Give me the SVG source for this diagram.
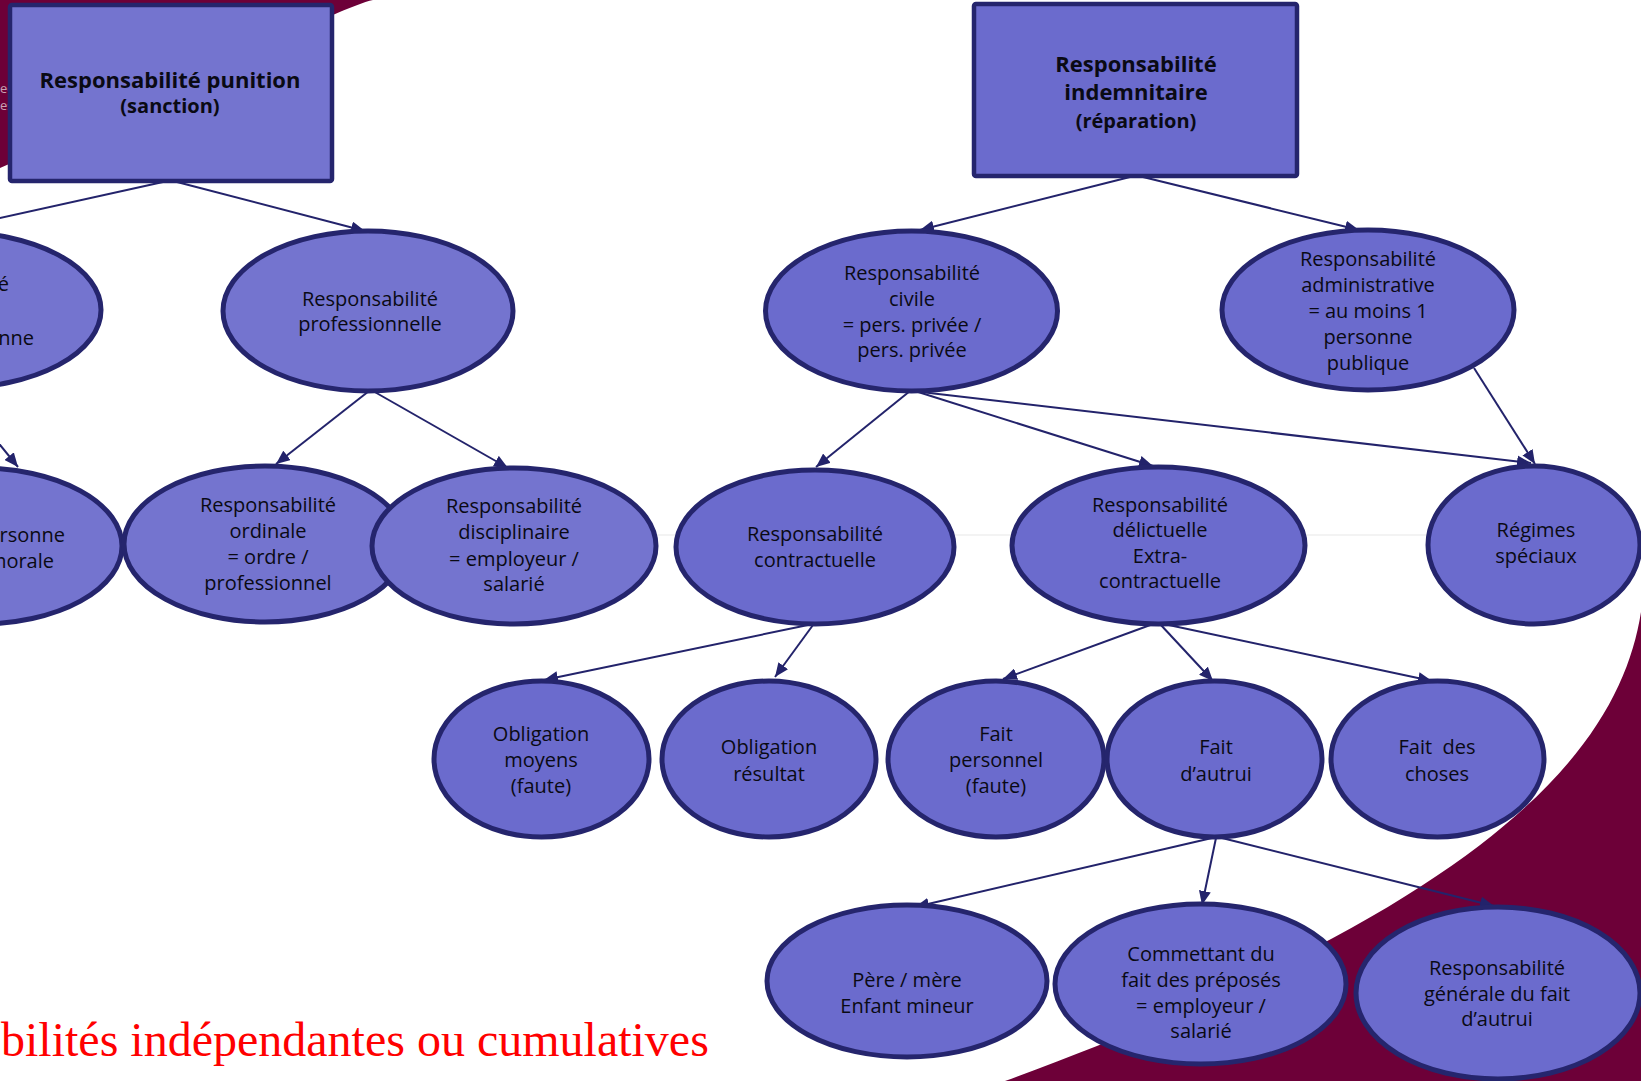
<svg xmlns="http://www.w3.org/2000/svg" width="1641" height="1081" viewBox="0 0 1641 1081">
<style>
.lt{fill:#7474CF;stroke:#25256D;stroke-width:5}
.rt{fill:#6B6BCD;stroke:#25256D;stroke-width:5}
.box{stroke-width:4.5}
text{font-family:"Open Sans","Noto Sans","DejaVu Sans",sans-serif;fill:#0a0a14;text-anchor:middle}
.n{font-size:20px}
.b{font-size:22px;font-weight:bold}
.c{stroke:#23236B;stroke-width:2;fill:none;marker-end:url(#ah)}
</style>
<defs>
<marker id="ah" viewBox="0 0 14 12" refX="14" refY="6" markerWidth="14" markerHeight="12" orient="auto" markerUnits="userSpaceOnUse">
<path d="M0,0 L14,6 L0,12 z" fill="#23236B"/>
</marker>
</defs>
<rect width="1641" height="1081" fill="#ffffff"/>
<g id="background">
<path d="M0,0 L373,0 C335,8 150,105 0,168 Z" fill="#6D0038"/>
<path d="M1641,612 C1620,745 1500,900 1005,1081 L1641,1081 Z" fill="#6D0038"/>
<line x1="0" y1="535" x2="1641" y2="535" stroke="#f3f3f3" stroke-width="2"/>
<text x="0" y="93" style="font-size:13px;fill:#c9a3b4;text-anchor:start">ec</text>
<text x="0" y="110" style="font-size:13px;fill:#c9a3b4;text-anchor:start">es</text>
</g>
<g id="connectors">
<line class="c" x1="163" y1="182" x2="-63" y2="232"/>
<line class="c" x1="177" y1="182" x2="365" y2="231"/>
<line class="c" x1="-47" y1="387" x2="18" y2="467"/>
<line class="c" x1="369" y1="391" x2="276" y2="464"/>
<line class="c" x1="373" y1="391" x2="508" y2="468"/>
<line class="c" x1="1130" y1="177" x2="920" y2="230"/>
<line class="c" x1="1143" y1="177" x2="1359" y2="230"/>
<line class="c" x1="910" y1="391" x2="816" y2="467"/>
<line class="c" x1="915" y1="391" x2="1153" y2="466"/>
<line class="c" x1="921" y1="392" x2="1531" y2="463"/>
<line class="c" x1="1474" y1="368" x2="1535" y2="464"/>
<line class="c" x1="808" y1="625" x2="544" y2="680"/>
<line class="c" x1="813" y1="625" x2="775" y2="677"/>
<line class="c" x1="1153" y1="624" x2="1003" y2="679"/>
<line class="c" x1="1160" y1="624" x2="1213" y2="681"/>
<line class="c" x1="1164" y1="624" x2="1432" y2="681"/>
<line class="c" x1="1212" y1="838" x2="915" y2="907"/>
<line class="c" x1="1216" y1="838" x2="1202" y2="905"/>
<line class="c" x1="1222" y1="838" x2="1494" y2="906"/>
</g>
<g id="box-punition">
<rect class="lt box" x="10" y="5" width="322" height="176" rx="2"/>
<text class="b" x="170" y="88">Responsabilité punition</text>
<text class="b" x="170" y="113" style="font-size:20px">(sanction)</text>
</g>
<g id="box-indemnitaire">
<rect class="rt box" x="974" y="4" width="323" height="172" rx="2"/>
<text class="b" x="1136" y="72">Responsabilité</text>
<text class="b" x="1136" y="100">indemnitaire</text>
<text class="b" x="1136" y="128" style="font-size:20px">(réparation)</text>
</g>
<g id="node-partial-top">
<ellipse class="lt" cx="-45" cy="310" rx="146" ry="78"/>
<text class="n" x="9" y="291" style="text-anchor:end">é</text>
<text class="n" x="34" y="345" style="text-anchor:end">nne</text>
</g>
<g id="node-partial-morale">
<ellipse class="lt" cx="-20" cy="546" rx="142" ry="78"/>
<text class="n" x="65" y="542" style="text-anchor:end">rsonne</text>
<text class="n" x="54" y="568" style="text-anchor:end">morale</text>
</g>
<g id="node-professionnelle">
<ellipse class="lt" cx="368" cy="311" rx="145" ry="80"/>
<text class="n" x="370" y="306">Responsabilité</text>
<text class="n" x="370" y="331">professionnelle</text>
</g>
<g id="node-ordinale">
<ellipse class="lt" cx="265" cy="544" rx="141" ry="78"/>
<text class="n" x="268" y="512">Responsabilité</text>
<text class="n" x="268" y="538">ordinale</text>
<text class="n" x="268" y="564">= ordre /</text>
<text class="n" x="268" y="590">professionnel</text>
</g>
<g id="node-disciplinaire">
<ellipse class="lt" cx="514" cy="546" rx="142" ry="78"/>
<text class="n" x="514" y="513">Responsabilité</text>
<text class="n" x="514" y="539">disciplinaire</text>
<text class="n" x="514" y="566">= employeur /</text>
<text class="n" x="514" y="591">salarié</text>
</g>
<g id="node-civile">
<ellipse class="rt" cx="911.5" cy="311" rx="146" ry="80"/>
<text class="n" x="912" y="280">Responsabilité</text>
<text class="n" x="912" y="306">civile</text>
<text class="n" x="912" y="332">= pers. privée /</text>
<text class="n" x="912" y="357">pers. privée</text>
</g>
<g id="node-administrative">
<ellipse class="rt" cx="1368" cy="310" rx="146" ry="80"/>
<text class="n" x="1368" y="266">Responsabilité</text>
<text class="n" x="1368" y="292">administrative</text>
<text class="n" x="1368" y="318">= au moins 1</text>
<text class="n" x="1368" y="344">personne</text>
<text class="n" x="1368" y="370">publique</text>
</g>
<g id="node-contractuelle">
<ellipse class="rt" cx="815" cy="547" rx="139" ry="77"/>
<text class="n" x="815" y="541">Responsabilité</text>
<text class="n" x="815" y="567">contractuelle</text>
</g>
<g id="node-delictuelle">
<ellipse class="rt" cx="1158.5" cy="545.5" rx="146.5" ry="78.5"/>
<text class="n" x="1160" y="512">Responsabilité</text>
<text class="n" x="1160" y="537">délictuelle</text>
<text class="n" x="1160" y="563">Extra-</text>
<text class="n" x="1160" y="588">contractuelle</text>
</g>
<g id="node-regimes">
<ellipse class="rt" cx="1534" cy="545" rx="106" ry="79"/>
<text class="n" x="1536" y="537">Régimes</text>
<text class="n" x="1536" y="563">spéciaux</text>
</g>
<g id="node-obligation-moyens">
<ellipse class="rt" cx="541.5" cy="759" rx="107.5" ry="78"/>
<text class="n" x="541" y="741">Obligation</text>
<text class="n" x="541" y="767">moyens</text>
<text class="n" x="541" y="793">(faute)</text>
</g>
<g id="node-obligation-resultat">
<ellipse class="rt" cx="769" cy="759" rx="107" ry="78"/>
<text class="n" x="769" y="754">Obligation</text>
<text class="n" x="769" y="781">résultat</text>
</g>
<g id="node-fait-personnel">
<ellipse class="rt" cx="996" cy="759" rx="108" ry="78"/>
<text class="n" x="996" y="741">Fait</text>
<text class="n" x="996" y="767">personnel</text>
<text class="n" x="996" y="793">(faute)</text>
</g>
<g id="node-fait-autrui">
<ellipse class="rt" cx="1214.5" cy="759" rx="107.5" ry="78"/>
<text class="n" x="1216" y="754">Fait</text>
<text class="n" x="1216" y="781">d’autrui</text>
</g>
<g id="node-fait-choses">
<ellipse class="rt" cx="1437.5" cy="759" rx="106.5" ry="78"/>
<text class="n" x="1437" y="754" xml:space="preserve">Fait  des</text>
<text class="n" x="1437" y="781">choses</text>
</g>
<g id="node-pere-mere">
<ellipse class="rt" cx="907" cy="981" rx="140" ry="76"/>
<text class="n" x="907" y="987">Père / mère</text>
<text class="n" x="907" y="1013">Enfant mineur</text>
</g>
<g id="node-commettant">
<ellipse class="rt" cx="1200.5" cy="984" rx="145.5" ry="80"/>
<text class="n" x="1201" y="961">Commettant du</text>
<text class="n" x="1201" y="987">fait des préposés</text>
<text class="n" x="1201" y="1013">= employeur /</text>
<text class="n" x="1201" y="1038">salarié</text>
</g>
<g id="node-generale">
<ellipse class="rt" cx="1498" cy="993" rx="142" ry="86"/>
<text class="n" x="1497" y="975">Responsabilité</text>
<text class="n" x="1497" y="1001">générale du fait</text>
<text class="n" x="1497" y="1026">d’autrui</text>
</g>
<g id="caption">
<text x="1" y="1056" style="font-family:'Liberation Serif','Times New Roman',serif;font-size:48px;fill:#FF0000;text-anchor:start">bilités indépendantes ou cumulatives</text>
</g>
</svg>
